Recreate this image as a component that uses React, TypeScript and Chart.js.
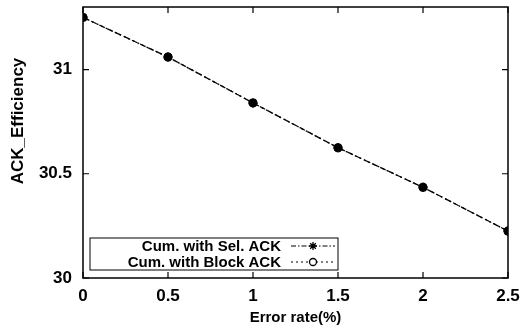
import React, { useEffect, useRef } from "react";
import { Chart, registerables } from "chart.js";

Chart.register(...registerables);

const errorRates = [0, 0.5, 1, 1.5, 2, 2.5];
const selAckEfficiency = [31.25, 31.06, 30.84, 30.625, 30.435, 30.225];
const blockAckEfficiency = [31.25, 31.06, 30.84, 30.625, 30.435, 30.225];
const xTickValues = [0, 0.5, 1, 1.5, 2, 2.5];
const yTickValues = [30, 30.5, 31];
const seriesLabels = ["Cum. with Sel. ACK", "Cum. with Block ACK"];
const xAxisTitle = "Error rate(%)";
const yAxisTitle = "ACK_Efficiency";

const FONT = "'Liberation Sans', Arial, Helvetica, sans-serif";

const framePlugin = {
  id: "gnuplotFrame",
  afterDraw(chart: any) {
    const { ctx, chartArea, scales } = chart;
    const { left, right, top, bottom } = chartArea;
    ctx.save();
    ctx.strokeStyle = "#000";
    ctx.lineWidth = 1.5;
    ctx.setLineDash([]);
    ctx.strokeRect(left, top, right - left, bottom - top);
    const tl = 6;
    ctx.lineWidth = 1.2;
    ctx.beginPath();
    scales.x.ticks.forEach((t: any) => {
      const px = scales.x.getPixelForValue(t.value);
      ctx.moveTo(px, bottom);
      ctx.lineTo(px, bottom - tl);
      ctx.moveTo(px, top);
      ctx.lineTo(px, top + tl);
    });
    scales.y.ticks.forEach((t: any) => {
      const py = scales.y.getPixelForValue(t.value);
      ctx.moveTo(left, py);
      ctx.lineTo(left + tl, py);
      ctx.moveTo(right, py);
      ctx.lineTo(right - tl, py);
    });
    ctx.stroke();

    // axis titles
    ctx.fillStyle = "#000";
    ctx.font = `bold 15px ${FONT}`;
    ctx.textAlign = "center";
    ctx.textBaseline = "middle";
    ctx.fillText(xAxisTitle, (left + right) / 2, 318);
    ctx.save();
    ctx.translate(18, 121);
    ctx.rotate(-Math.PI / 2);
    ctx.font = `bold 17px ${FONT}`;
    ctx.fillText(yAxisTitle, 0, 0);
    ctx.restore();

    // legend box (gnuplot style, inside plot)
    const bx = 90, by = 238, bw = 248, bh = 32;
    ctx.lineWidth = 1;
    ctx.strokeRect(bx, by, bw, bh);
    ctx.font = `bold 15px ${FONT}`;
    ctx.textAlign = "right";
    const rows = [246, 262];
    chart.data.datasets.forEach((ds: any, i: number) => {
      const y = rows[i];
      ctx.fillText(ds.label, 281, y + 1);
      ctx.save();
      ctx.lineWidth = 1.2;
      ctx.setLineDash(ds.legendDash || []);
      ctx.beginPath();
      ctx.moveTo(291, y);
      ctx.lineTo(335, y);
      ctx.stroke();
      ctx.restore();
      ctx.save();
      ctx.lineWidth = 1.3;
      ctx.beginPath();
      const cx = 313;
      if (ds.pointStyle === "star") {
        const r = 4;
        for (let k = 0; k < 4; k++) {
          const a = (k * Math.PI) / 4;
          ctx.moveTo(cx - r * Math.cos(a), y - r * Math.sin(a));
          ctx.lineTo(cx + r * Math.cos(a), y + r * Math.sin(a));
        }
        ctx.stroke();
      } else {
        ctx.fillStyle = "#fff";
        ctx.arc(cx, y, 3.5, 0, Math.PI * 2);
        ctx.fill();
        ctx.stroke();
      }
      ctx.restore();
    });
    ctx.restore();
  },
};

export default function App() {
  const canvasRef = useRef<HTMLCanvasElement | null>(null);

  useEffect(() => {
    const canvas = canvasRef.current;
    if (!canvas) return;
    const tickFont = { family: FONT, size: 17, weight: "bold" as const };
    const chart = new Chart(canvas, {
      type: "line",
      data: {
        datasets: [
          {
            label: seriesLabels[0],
            data: errorRates.map((x, i) => ({ x, y: selAckEfficiency[i] })),
            borderColor: "#000",
            backgroundColor: "#000",
            borderWidth: 1.3,
            borderDash: [6, 3],
            legendDash: [5, 2, 1.5, 2],
            pointStyle: "star",
            pointRadius: 4.5,
            pointBorderWidth: 2.5,
            pointBorderColor: "#000",
            fill: false,
            tension: 0,
          } as any,
          {
            label: seriesLabels[1],
            data: errorRates.map((x, i) => ({ x, y: blockAckEfficiency[i] })),
            borderColor: "#000",
            backgroundColor: "#000",
            borderWidth: 1.3,
            borderDash: [2, 3],
            legendDash: [2, 3],
            pointStyle: "circle",
            pointRadius: 3.5,
            pointBorderWidth: 2,
            pointBorderColor: "#000",
            pointBackgroundColor: "#000",
            fill: false,
            tension: 0,
          } as any,
        ],
      },
      options: {
        responsive: false,
        animation: false,
        layout: { padding: { top: 6, right: 12, left: 0, bottom: 0 } },
        plugins: {
          legend: { display: false },
          tooltip: { enabled: false },
        },
        scales: {
          x: {
            type: "linear",
            min: 0,
            max: 2.5,
            afterBuildTicks: (scale: any) => {
              scale.ticks = xTickValues.map((v) => ({ value: v }));
            },
            afterFit: (scale: any) => {
              scale.height = 50;
              scale.paddingLeft = 0;
              scale.paddingRight = 0;
            },
            grid: { display: false, drawTicks: false },
            border: { display: false },
            ticks: {
              color: "#000",
              font: tickFont,
              padding: 8,
              maxRotation: 0,
              callback: (v: any) => String(v),
            },
          },
          y: {
            type: "linear",
            min: 30,
            max: 31.3,
            afterBuildTicks: (scale: any) => {
              scale.ticks = yTickValues.map((v) => ({ value: v }));
            },
            afterFit: (scale: any) => {
              scale.width = 83;
              scale.paddingTop = 0;
              scale.paddingBottom = 0;
            },
            grid: { display: false, drawTicks: false },
            border: { display: false },
            ticks: {
              color: "#000",
              font: tickFont,
              padding: 11,
              callback: (v: any) => String(v),
            },
          },
        },
      },
      plugins: [framePlugin],
    });
    return () => chart.destroy();
  }, []);

  return (
    <div style={{ position: "absolute", left: 0, top: 0, width: 520, height: 328, background: "#fff" }}>
      <canvas ref={canvasRef} width={520} height={328} />
    </div>
  );
}
